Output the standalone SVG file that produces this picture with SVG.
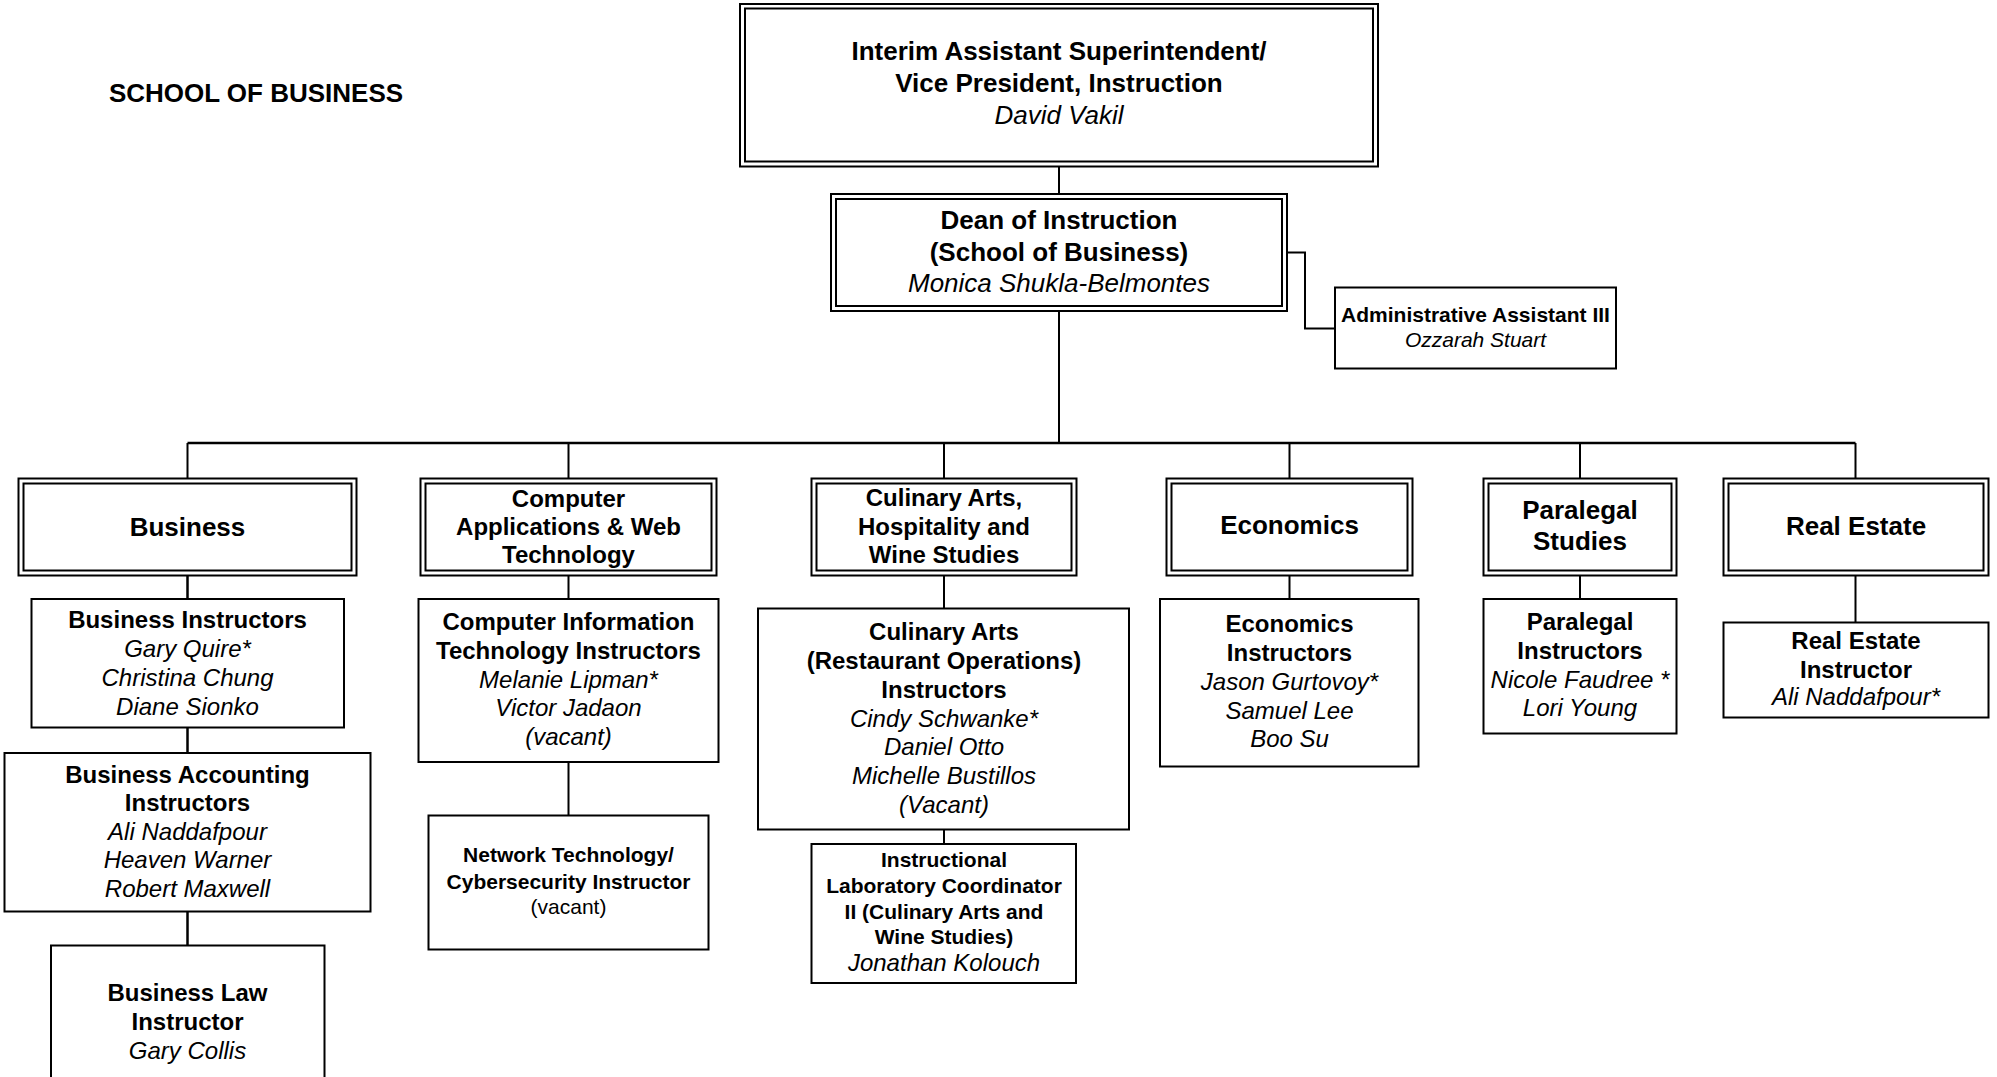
<svg xmlns="http://www.w3.org/2000/svg" width="1997" height="1077" viewBox="0 0 1997 1077">
<style>
text{font-family:"Liberation Sans",Arial,sans-serif;fill:#000;text-anchor:middle}
.b{font-weight:bold}
.i{font-style:italic}
.s26{font-size:26px}
.s24{font-size:24px}
.s21{font-size:21px}
rect{fill:#fff;stroke:#000;stroke-width:2}
.conn path{fill:none;stroke:#000;stroke-width:2}
</style>
<rect x="0" y="0" width="1997" height="1077" style="stroke:none"/>
<text x="256" y="102" class="b s26">SCHOOL OF BUSINESS</text>
<g class="conn" id="connectors">
<path d="M1059 166.5V194"/>
<path d="M1059 311V443"/>
<path d="M1287 252.5H1305V328.5H1335"/>
<path d="M187.5 443H1855.5" style="stroke-width:2.5"/>
<path d="M187.5 443V478.5M568.5 443V478.5M944 443V478.5M1289.5 443V478.5M1580 443V478.5M1855.5 443V478.5"/>
<path d="M187.5 575.5V599M187.5 727.5V753M187.5 911.5V945.5" style="stroke-width:2.5"/>
<path d="M568.5 575.5V599M568.5 762V815.5"/>
<path d="M944 575.5V608.5M944 829.5V844"/>
<path d="M1289.5 575.5V599M1580 575.5V599M1855.5 575.5V622.5"/>
</g>
<g id="vp">
<rect x="740" y="4" width="638" height="162.5"/><rect x="745" y="8.5" width="628" height="153"/>
<text x="1059" y="60" class="b s26">Interim Assistant Superintendent/</text>
<text x="1059" y="92" class="b s26">Vice President, Instruction</text>
<text x="1059" y="124" class="i s26">David Vakil</text>
</g>
<g id="dean">
<rect x="831" y="194" width="456" height="117"/><rect x="836" y="199" width="446" height="107"/>
<text x="1059" y="229" class="b s26">Dean of Instruction</text>
<text x="1059" y="261" class="b s26">(School of Business)</text>
<text x="1059" y="292" class="i s26">Monica Shukla-Belmontes</text>
</g>
<g id="admin">
<rect x="1335" y="287.5" width="281" height="81"/>
<text x="1475.5" y="322" class="b s21">Administrative Assistant III</text>
<text x="1475.5" y="347" class="i s21">Ozzarah Stuart</text>
</g>
<g id="business">
<rect x="18.5" y="478.5" width="338" height="97"/><rect x="23.5" y="483.5" width="328" height="87"/>
<text x="187.5" y="535.5" class="b s26">Business</text>
</g>
<g id="cawt">
<rect x="420.5" y="478.5" width="296" height="97"/><rect x="425.5" y="483.5" width="286" height="87"/>
<text x="568.5" y="506.5" class="b s24">Computer</text>
<text x="568.5" y="534.5" class="b s24">Applications &amp; Web</text>
<text x="568.5" y="562.5" class="b s24">Technology</text>
</g>
<g id="culinary">
<rect x="811.5" y="478.5" width="265" height="97"/><rect x="816.5" y="483.5" width="255" height="87"/>
<text x="944" y="505.5" class="b s24">Culinary Arts,</text>
<text x="944" y="534.5" class="b s24">Hospitality and</text>
<text x="944" y="562.5" class="b s24">Wine Studies</text>
</g>
<g id="economics">
<rect x="1166.5" y="478.5" width="246" height="97"/><rect x="1171.5" y="483.5" width="236" height="87"/>
<text x="1289.5" y="534" class="b s26">Economics</text>
</g>
<g id="paralegal">
<rect x="1483.5" y="478.5" width="193" height="97"/><rect x="1488.5" y="483.5" width="183" height="87"/>
<text x="1580" y="518.5" class="b s26">Paralegal</text>
<text x="1580" y="549.5" class="b s26">Studies</text>
</g>
<g id="realestate">
<rect x="1723.5" y="478.5" width="265" height="97"/><rect x="1728.5" y="483.5" width="255" height="87"/>
<text x="1856" y="535" class="b s26">Real Estate</text>
</g>
<g id="bus-instr">
<rect x="31.5" y="599" width="312.5" height="128.5"/>
<text x="187.5" y="627.5" class="b s24">Business Instructors</text>
<text x="187.5" y="656.5" class="i s24">Gary Quire*</text>
<text x="187.5" y="685.5" class="i s24">Christina Chung</text>
<text x="187.5" y="714.5" class="i s24">Diane Sionko</text>
</g>
<g id="bus-acc">
<rect x="4.5" y="753" width="366" height="158.5"/>
<text x="187.5" y="782.5" class="b s24">Business Accounting</text>
<text x="187.5" y="811" class="b s24">Instructors</text>
<text x="187.5" y="839.5" class="i s24">Ali Naddafpour</text>
<text x="187.5" y="868" class="i s24">Heaven Warner</text>
<text x="187.5" y="897" class="i s24">Robert Maxwell</text>
</g>
<g id="bus-law">
<rect x="51" y="945.5" width="273.5" height="150"/>
<text x="187.5" y="1001" class="b s24">Business Law</text>
<text x="187.5" y="1030" class="b s24">Instructor</text>
<text x="187.5" y="1058.5" class="i s24">Gary Collis</text>
</g>
<g id="cit">
<rect x="418.5" y="599" width="300" height="163"/>
<text x="568.5" y="630" class="b s24">Computer Information</text>
<text x="568.5" y="659" class="b s24">Technology Instructors</text>
<text x="568.5" y="687.5" class="i s24">Melanie Lipman*</text>
<text x="568.5" y="716" class="i s24">Victor Jadaon</text>
<text x="568.5" y="745" class="i s24">(vacant)</text>
</g>
<g id="network">
<rect x="428.5" y="815.5" width="280" height="134"/>
<text x="568.5" y="861.5" class="b s21">Network Technology/</text>
<text x="568.5" y="888.5" class="b s21">Cybersecurity Instructor</text>
<text x="568.5" y="913.5" class="s21">(vacant)</text>
</g>
<g id="culinary-instr">
<rect x="758" y="608.5" width="371" height="221"/>
<text x="944" y="640" class="b s24">Culinary Arts</text>
<text x="944" y="669" class="b s24">(Restaurant Operations)</text>
<text x="944" y="698" class="b s24">Instructors</text>
<text x="944" y="726.5" class="i s24">Cindy Schwanke*</text>
<text x="944" y="755" class="i s24">Daniel Otto</text>
<text x="944" y="783.5" class="i s24">Michelle Bustillos</text>
<text x="944" y="812.5" class="i s24">(Vacant)</text>
</g>
<g id="lab-coord">
<rect x="811.5" y="844" width="264.5" height="139"/>
<text x="944" y="866.5" class="b s21">Instructional</text>
<text x="944" y="892.5" class="b s21">Laboratory Coordinator</text>
<text x="944" y="918.5" class="b s21">II (Culinary Arts and</text>
<text x="944" y="944" class="b s21">Wine Studies)</text>
<text x="944" y="971" class="i s24">Jonathan Kolouch</text>
</g>
<g id="econ-instr">
<rect x="1160" y="599" width="258.5" height="167.5"/>
<text x="1289.5" y="631.5" class="b s24">Economics</text>
<text x="1289.5" y="660.5" class="b s24">Instructors</text>
<text x="1289.5" y="689.5" class="i s24">Jason Gurtovoy*</text>
<text x="1289.5" y="718.5" class="i s24">Samuel Lee</text>
<text x="1289.5" y="747" class="i s24">Boo Su</text>
</g>
<g id="para-instr">
<rect x="1483.5" y="599" width="193" height="134.5"/>
<text x="1580" y="630" class="b s24">Paralegal</text>
<text x="1580" y="659" class="b s24">Instructors</text>
<text x="1580" y="687.5" class="i s24">Nicole Faudree *</text>
<text x="1580" y="716" class="i s24">Lori Young</text>
</g>
<g id="re-instr">
<rect x="1723.5" y="622.5" width="265" height="95"/>
<text x="1856" y="648.5" class="b s24">Real Estate</text>
<text x="1856" y="677.5" class="b s24">Instructor</text>
<text x="1856" y="705" class="i s24">Ali Naddafpour*</text>
</g>
</svg>
